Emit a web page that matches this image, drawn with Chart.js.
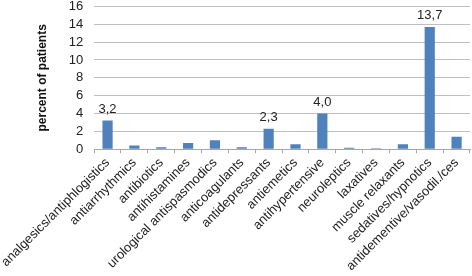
<!DOCTYPE html>
<html>
<head>
<meta charset="utf-8">
<script src="https://cdn.jsdelivr.net/npm/chart.js@4"></script>
<style>
  body { margin: 0; background: #fff; }
  #wrap { width: 472px; height: 276px; position: relative; }
</style>
</head>
<body>
<div id="wrap"><canvas id="chart"></canvas></div>
<script>
const categories = [
    "analgesics/antiphlogistics", "antiarrhythmics", "antibiotics", "antihistamines",
    "urological antispasmodics", "anticoagulants", "antidepressants", "antiemetics",
    "antihypertensive", "neuroleptics", "laxatives", "muscle relaxants",
    "sedatives/hypnotics", "antidementive/vasodil./ces"
];
const percentValues = [3.2, 0.4, 0.2, 0.7, 1.0, 0.2, 2.3, 0.55, 4.0, 0.15, 0.1, 0.55, 13.7, 1.4];
const valueLabels = ["3,2", null, null, null, null, null, "2,3", null, "4,0", null, null, null, "13,7", null];

// draws the few value labels shown above bars
const barLabels = {
    id: 'barLabels',
    afterDatasetsDraw(chart) {
        const ctx = chart.ctx;
        const meta = chart.getDatasetMeta(0);
        ctx.save();
        ctx.font = '13px "Liberation Sans", Arial, sans-serif';
        ctx.fillStyle = '#222';
        ctx.textAlign = 'center';
        ctx.textBaseline = 'bottom';
        meta.data.forEach((bar, i) => {
            if (valueLabels[i]) ctx.fillText(valueLabels[i], bar.x, bar.y - 5);
        });
        ctx.restore();
    }
};

new Chart(document.getElementById("chart"), {
    type: 'bar',
    data: {
        labels: categories,
        datasets: [{
            data: percentValues,
            backgroundColor: '#4F81BD',
            categoryPercentage: 1,
            barPercentage: 0.38
        }]
    },
    options: {
        responsive: true,
        maintainAspectRatio: false,
        animation: false,
        layout: { padding: { top: -1, right: 2, left: 26 } },
        plugins: {
            legend: { display: false },
            tooltip: { enabled: false }
        },
        scales: {
            x: {
                offset: true,
                grid: {
                    offset: true,
                    drawOnChartArea: false,
                    drawTicks: true,
                    tickLength: 4,
                    color: '#A6A6A6'
                },
                border: { color: '#A6A6A6' },
                ticks: {
                    minRotation: 45,
                    maxRotation: 45,
                    autoSkip: false,
                    padding: 2,
                    color: '#222',
                    font: { family: '"Liberation Sans", Arial, sans-serif', size: 13 }
                }
            },
            y: {
                min: 0,
                max: 16,
                ticks: {
                    stepSize: 2,
                    autoSkip: false,
                    padding: 0,
                    color: '#222',
                    font: { family: '"Liberation Sans", Arial, sans-serif', size: 13, lineHeight: 1 }
                },
                grid: {
                    color: '#BFBFBF',
                    lineWidth: 1,
                    drawTicks: true,
                    tickLength: 11,
                    tickColor: 'rgba(0,0,0,0)'
                },
                border: { display: false }
            }
        }
    },
    plugins: [barLabels, {
        id: 'yTitle',
        afterDraw(chart) {
            const ctx = chart.ctx;
            const a = chart.chartArea;
            ctx.save();
            ctx.translate(43, (a.top + a.bottom) / 2);
            ctx.rotate(-Math.PI / 2);
            ctx.font = 'bold 12px "Liberation Sans", Arial, sans-serif';
            ctx.fillStyle = '#111';
            ctx.textAlign = 'center';
            ctx.textBaseline = 'middle';
            ctx.fillText('percent of patients', 0, 0);
            ctx.restore();
        }
    }]
});
</script>
</body>
</html>
